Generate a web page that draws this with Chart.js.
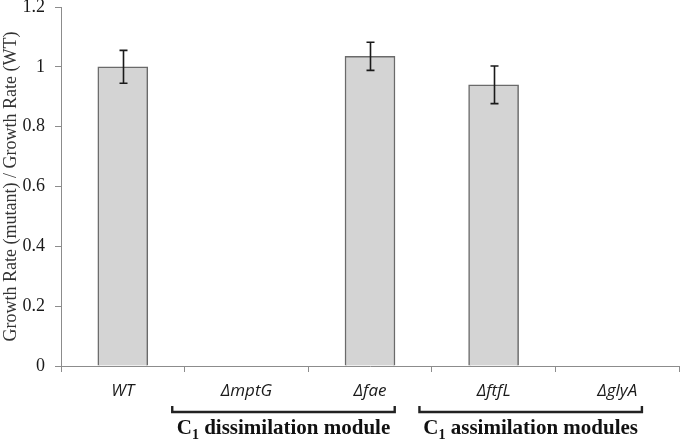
<!DOCTYPE html>
<html>
<head>
<meta charset="utf-8">
<script src="https://cdn.jsdelivr.net/npm/chart.js@4.4.0/dist/chart.umd.min.js"></script>
<style>
  html, body { margin: 0; padding: 0; background: #fff; }
  #wrap { width: 680px; height: 443px; }
</style>
</head>
<body>
<div id="wrap"><canvas id="myChartBar"></canvas></div>
<script>
// data
const categories = ["WT", "\u0394mptG", "\u0394fae", "\u0394ftfL", "\u0394glyA"];
const growthRate = [1.0, 0, 1.035, 0.94, 0];
const growthErr = [0.055, 0, 0.047, 0.063, 0];
const yTicks = [0, 0.2, 0.4, 0.6, 0.8, 1, 1.2];
const moduleNames = ["dissimilation module", "assimilation modules"];
const moduleFirst = [1, 3];
const moduleLast = [2, 4];

const axisGray = "#8c8c8c";

// error bars on top of the bars
const errorBars = {
  id: "errorBars",
  afterDatasetsDraw(chart) {
    const ctx = chart.ctx,
      x = chart.scales.x,
      y = chart.scales.y;
    ctx.save();
    ctx.strokeStyle = "#1a1a1a";
    ctx.lineWidth = 1.6;
    growthRate.forEach((v, i) => {
      if (!growthErr[i]) return;
      const px = Math.round(x.getPixelForValue(i)) + 0.5;
      const top = y.getPixelForValue(v + growthErr[i]);
      const bot = y.getPixelForValue(v - growthErr[i]);
      ctx.beginPath();
      ctx.moveTo(px, top);
      ctx.lineTo(px, bot);
      ctx.moveTo(px - 4, top);
      ctx.lineTo(px + 4, top);
      ctx.moveTo(px - 4, bot);
      ctx.lineTo(px + 4, bot);
      ctx.stroke();
    });
    ctx.restore();
  },
};

// module brackets under the category labels
const moduleBrackets = {
  id: "moduleBrackets",
  afterDraw(chart) {
    const ctx = chart.ctx,
      x = chart.scales.x,
      base = chart.chartArea.bottom;
    const by = base + 46;
    ctx.save();
    ctx.strokeStyle = "#222";
    ctx.fillStyle = "#111";
    ctx.lineWidth = 2.4;
    moduleNames.forEach((name, m) => {
      const x1 = x.getPixelForValue(moduleFirst[m] - 0.6);
      const x2 = x.getPixelForValue(moduleLast[m] + 0.2);
      ctx.beginPath();
      ctx.moveTo(x1, by - 6);
      ctx.lineTo(x1, by);
      ctx.lineTo(x2, by);
      ctx.lineTo(x2, by - 6);
      ctx.stroke();

      // "C" + subscript 1 + name
      const big = "bold 21px 'Liberation Serif', 'Times New Roman', serif";
      const small = "bold 14px 'Liberation Serif', 'Times New Roman', serif";
      ctx.font = big;
      const wC = ctx.measureText("C").width;
      const wRest = ctx.measureText(" " + name).width;
      ctx.font = small;
      const w1 = ctx.measureText("1").width;
      let tx = (x1 + x2) / 2 - (wC + w1 + wRest) / 2;
      const ty = base + 68;
      ctx.textBaseline = "alphabetic";
      ctx.textAlign = "left";
      ctx.font = big;
      ctx.fillText("C", tx, ty);
      tx += wC;
      ctx.font = small;
      ctx.fillText("1", tx, ty + 5);
      tx += w1;
      ctx.font = big;
      ctx.fillText(" " + name, tx, ty);
    });
    ctx.restore();
  },
};

const ctx = document.getElementById("myChartBar");

const barChart = new Chart(ctx, {
  type: "bar",
  data: {
    labels: categories,
    datasets: [
      {
        data: growthRate,
        backgroundColor: "#d4d4d4",
        borderColor: "#6a6a6a",
        borderWidth: 1.5,
        barThickness: 50,
      },
    ],
  },
  options: {
    responsive: true,
    maintainAspectRatio: false,
    animation: false,
    layout: {
      padding: { top: 7, right: 1, left: 0, bottom: 0 },
    },
    plugins: {
      legend: { display: false },
      tooltip: { enabled: false },
    },
    scales: {
      x: {
        offset: true,
        grid: {
          offset: true,
          drawOnChartArea: false,
          tickLength: 6,
          color: axisGray,
        },
        border: { color: axisGray, width: 1 },
        ticks: {
          color: "#1a1a1a",
          padding: 9,
          font: { family: "'Open Sans', sans-serif", size: 17, style: "italic" },
        },
        afterFit: (s) => {
          s.height = 77;
        },
      },
      y: {
        min: 0,
        max: 1.2,
        grid: {
          drawOnChartArea: false,
          tickLength: 6,
          color: axisGray,
        },
        border: { color: axisGray, width: 1 },
        ticks: {
          color: "#1a1a1a",
          padding: 10,
          font: { family: "'Liberation Serif', serif", size: 18 },
          callback: (v) => String(v),
        },
        afterBuildTicks: (s) => {
          s.ticks = yTicks.map((v) => ({ value: v }));
        },
        title: {
          display: true,
          text: "Growth Rate (mutant) / Growth Rate (WT)",
          color: "#333",
          padding: 0,
          font: { family: "'Liberation Serif', serif", size: 18 },
        },
        afterFit: (s) => {
          s.width = 61;
          s.paddingTop = 0;
          s.paddingBottom = 0;
        },
      },
    },
  },
  plugins: [errorBars, moduleBrackets],
});
</script>
</body>
</html>
